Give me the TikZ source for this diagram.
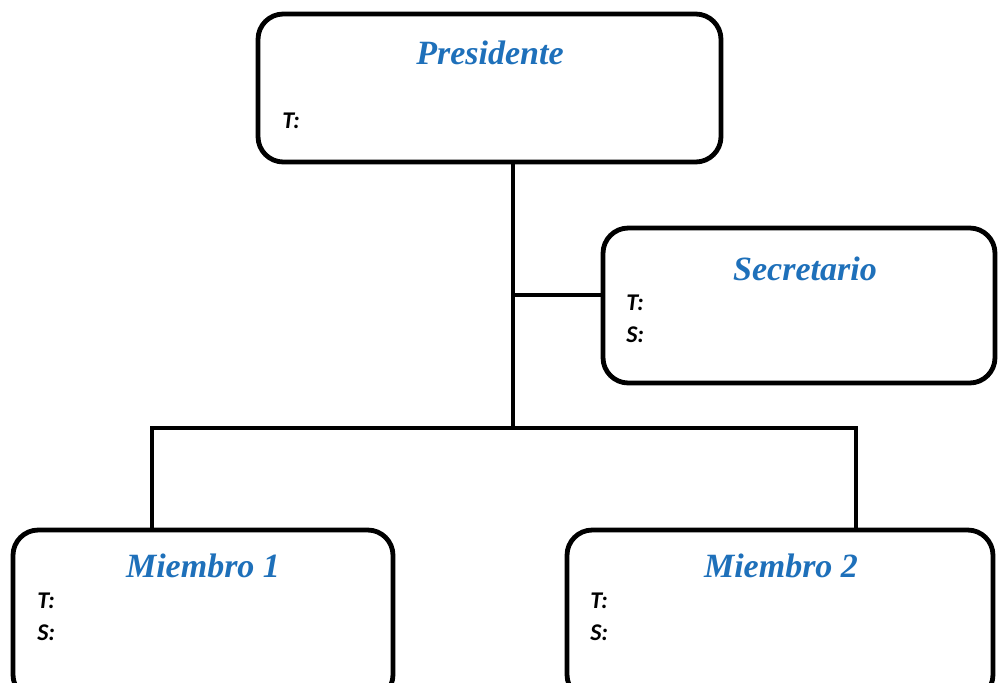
\documentclass[tikz,border=0pt]{standalone}
\usepackage{fontspec}
\newfontfamily\titlefont{Liberation Serif}
\newfontfamily\labfont{Carlito}
\definecolor{titleblue}{RGB}{30,112,186}
\begin{document}
\begin{tikzpicture}[x=0.75pt,y=-0.75pt,
  box/.style={draw=black,line width=3.6pt,rounded corners=19pt,fill=white,inner sep=0pt},
  ttl/.style={font=\titlefont\bfseries\itshape\fontsize{25.5}{29}\selectfont,text=titleblue,inner sep=0pt},
  lab/.style={font=\labfont\bfseries\itshape\fontsize{18}{20}\selectfont,anchor=west,inner sep=0pt},
  conn/.style={line width=3.6pt}]
\useasboundingbox (0,0) rectangle (998,682);
\clip (0,0) rectangle (998,682);
\node[box,minimum width=463*0.75pt,minimum height=148*0.75pt] (pres) at (489.5,88) {};
\node[box,minimum width=392*0.75pt,minimum height=155*0.75pt] (sec) at (799,305.5) {};
\node[box,minimum width=380*0.75pt,minimum height=170*0.75pt] (m1) at (203,615) {};
\node[box,minimum width=426*0.75pt,minimum height=170*0.75pt] (m2) at (780,615) {};
\coordinate (j1) at (513,295);
\coordinate (j2) at (513,428);
\coordinate (l) at (152,428);
\coordinate (r) at (856,428);
\draw[conn] (j1 |- pres.south) -- (j2);
\draw[conn] (j1) -- (j1 -| sec.west);
\draw[conn] (l |- m1.north) -- (l) -- (r) -- (r |- m2.north);
\node[ttl] (tp) at (490,53) {Presidente};
\node[lab] (pt) at (282,121) {T:};
\node[ttl] (ts) at (805,269) {Secretario};
\node[lab] (st) at (626,303) {T:};
\node[lab] (ss) at (626,335) {S:};
\node[ttl] (tm1) at (203,566) {Miembro 1};
\node[lab] (m1t) at (37,601) {T:};
\node[lab] (m1s) at (37,633) {S:};
\node[ttl] (tm2) at (781,566) {Miembro 2};
\node[lab] (m2t) at (590,601) {T:};
\node[lab] (m2s) at (590,633) {S:};
\end{tikzpicture}
\end{document}
